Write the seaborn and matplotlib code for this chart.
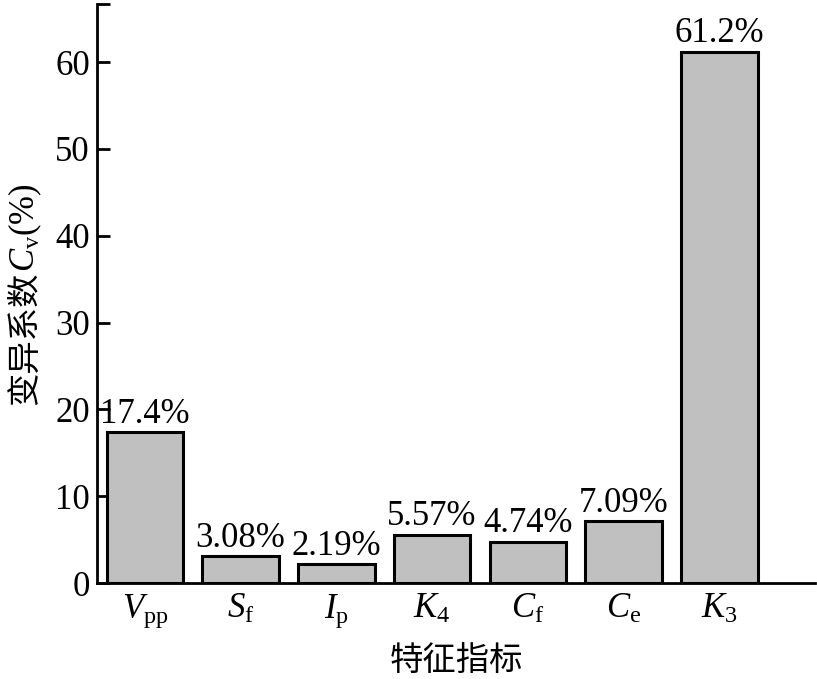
import pandas as pd
import matplotlib
matplotlib.use("Agg")
import matplotlib.pyplot as plt
import seaborn as sns

# Data
features = [r'$\mathit{V}_\mathrm{pp}$', r'$\mathit{S}_\mathrm{f}$', r'$\mathit{I}_\mathrm{p}$',
            r'$\mathit{K}_\mathrm{4}$', r'$\mathit{C}_\mathrm{f}$', r'$\mathit{C}_\mathrm{e}$',
            r'$\mathit{K}_\mathrm{3}$']
cv_values = [17.4, 3.08, 2.19, 5.57, 4.74, 7.09, 61.2]
cv_labels = ['17.4%', '3.08%', '2.19%', '5.57%', '4.74%', '7.09%', '61.2%']
y_ticks = [0, 10, 20, 30, 40, 50, 60]

# Style
sns.set_theme(style="ticks")
plt.rcParams['font.family'] = ['Liberation Serif', 'Noto Sans CJK SC']
plt.rcParams['mathtext.fontset'] = 'custom'
plt.rcParams['mathtext.rm'] = 'Liberation Serif'
plt.rcParams['mathtext.it'] = 'Liberation Serif:italic'
plt.rcParams['mathtext.bf'] = 'Liberation Serif:bold'
plt.rcParams['text.color'] = 'black'

FS = 25

df = pd.DataFrame({'feature': features, 'cv': cv_values})

fig = plt.figure(figsize=(8.17, 6.79), dpi=100)
ax = fig.add_axes([97 / 817, 1 - 583 / 679, (815 - 97) / 817, (583 - 4) / 679])

sns.barplot(data=df, x='feature', y='cv', color='#c0c0c0', saturation=1,
            edgecolor='black', linewidth=2.2, width=0.8, ax=ax)

ax.bar_label(ax.containers[0], labels=cv_labels, padding=1, fontsize=FS, color='black')

ax.set_xlim(-0.5, 7.0)
ax.set_ylim(0, 66.7)
ax.set_yticks(y_ticks)
ax.set_yticks([66.7], minor=True)
ax.tick_params(axis='both', which='major', direction='in', length=9, width=2,
               labelsize=FS, color='black', labelcolor='black')
ax.tick_params(axis='y', which='minor', direction='in', length=9, width=2, color='black')
ax.tick_params(axis='x', pad=7)
ax.tick_params(axis='y', pad=5)

for side in ['top', 'right']:
    ax.spines[side].set_visible(False)
for side in ['left', 'bottom']:
    ax.spines[side].set_linewidth(2)
    ax.spines[side].set_color('black')

ax.set_xlabel('特征指标', fontsize=24, color='black', labelpad=12)
ax.set_ylabel('')

# y label in two parts (CJK + math), stacked end to end
lab1 = fig.text(25 / 817, 1 - 405 / 679, '变异系数', rotation=90, ha='center', va='bottom',
                fontsize=24, color='black')
fig.canvas.draw()
bb = lab1.get_window_extent()
top = bb.y1 / fig.bbox.height
fig.text(25 / 817, top, r'$\mathit{C}_\mathrm{v}$(%)', rotation=90, ha='center', va='bottom',
         fontsize=FS, color='black')

fig.savefig('out.png', dpi=100)
